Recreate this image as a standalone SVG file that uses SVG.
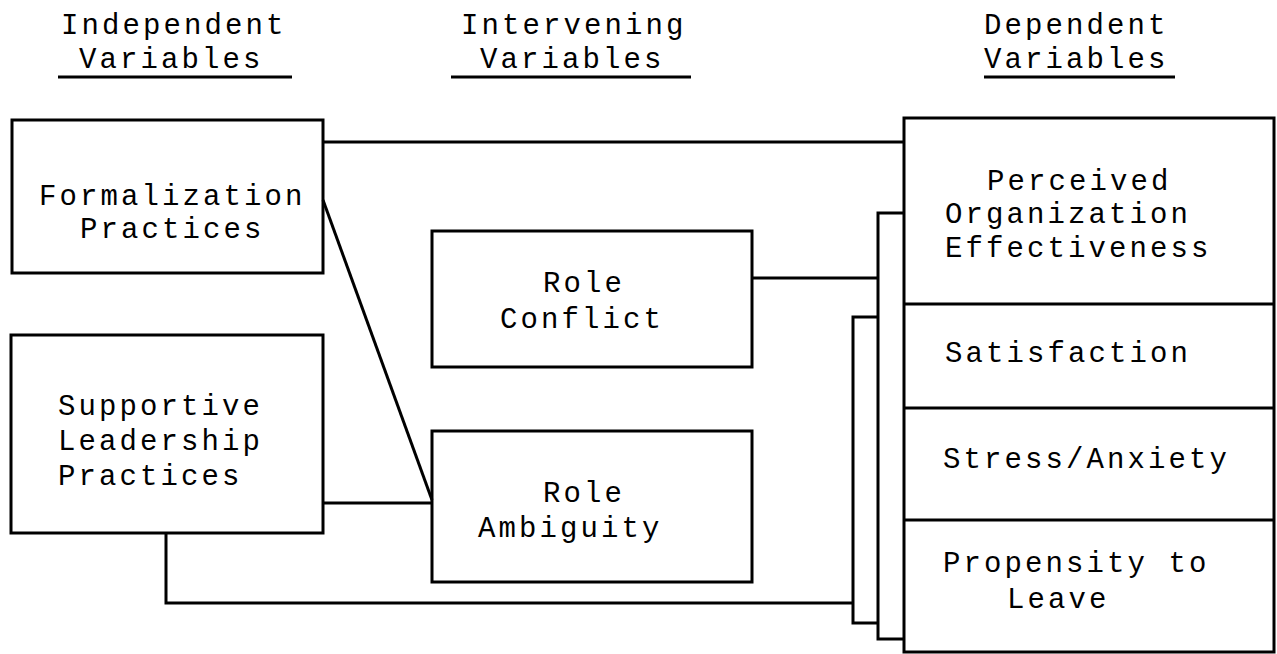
<svg xmlns="http://www.w3.org/2000/svg" width="1277" height="654" viewBox="0 0 1277 654">
<style>
  text { font-family: "Liberation Mono", "Courier New", monospace; font-size: 29px; letter-spacing: 3.1px; fill: #000; }
  .box { fill: none; stroke: #000; stroke-width: 3; }
  .ln { fill: none; stroke: #000; stroke-width: 3; stroke-linejoin: miter; }
  .ul { stroke: #000; stroke-width: 3; }
</style>
<rect width="1277" height="654" fill="#fff"/>

<g id="headers">
  <text x="61" y="34">Independent</text>
  <text x="79" y="68">Variables</text>
  <line class="ul" x1="58" y1="77" x2="292" y2="77"/>
  <text x="461" y="34">Intervening</text>
  <text x="480" y="68">Variables</text>
  <line class="ul" x1="451" y1="77" x2="691" y2="77"/>
  <text x="984" y="34">Dependent</text>
  <text x="984" y="68">Variables</text>
  <line class="ul" x1="984" y1="77" x2="1175" y2="77"/>
</g>

<g id="connectors">
  <polyline class="ln" points="323,142 904,142"/>
  <polyline class="ln" points="323,200 432,500"/>
  <polyline class="ln" points="323,503 432,503"/>
  <polyline class="ln" points="752,278 878,278"/>
  <polyline class="ln" points="904,213 878,213 878,639 904,639"/>
  <polyline class="ln" points="878,317 853,317 853,623 878,623"/>
  <polyline class="ln" points="166,533 166,603 853,603"/>
</g>

<g id="formalization">
  <rect class="box" x="12" y="120" width="311" height="153"/>
  <text x="39" y="205">Formalization</text>
  <text x="80" y="238">Practices</text>
</g>

<g id="supportive">
  <rect class="box" x="11" y="335" width="312" height="198"/>
  <text x="58" y="415">Supportive</text>
  <text x="58" y="450">Leadership</text>
  <text x="58" y="485">Practices</text>
</g>

<g id="role-conflict">
  <rect class="box" x="432" y="231" width="320" height="136"/>
  <text x="543" y="292">Role</text>
  <text x="500" y="328">Conflict</text>
</g>

<g id="role-ambiguity">
  <rect class="box" x="432" y="431" width="320" height="151"/>
  <text x="543" y="502">Role</text>
  <text x="478" y="537">Ambiguity</text>
</g>

<g id="dependent">
  <rect class="box" x="904" y="118" width="370" height="534"/>
  <line class="ul" x1="904" y1="304" x2="1274" y2="304"/>
  <line class="ul" x1="904" y1="408" x2="1274" y2="408"/>
  <line class="ul" x1="904" y1="520" x2="1274" y2="520"/>
</g>

<g id="perceived-effectiveness">
  <text x="987" y="190">Perceived</text>
  <text x="945" y="223">Organization</text>
  <text x="945" y="257">Effectiveness</text>
</g>
<g id="satisfaction">
  <text x="945" y="362">Satisfaction</text>
</g>
<g id="stress-anxiety">
  <text x="943" y="468">Stress/Anxiety</text>
</g>
<g id="propensity">
  <text x="943" y="572">Propensity to</text>
  <text x="1007" y="608">Leave</text>
</g>
</svg>
